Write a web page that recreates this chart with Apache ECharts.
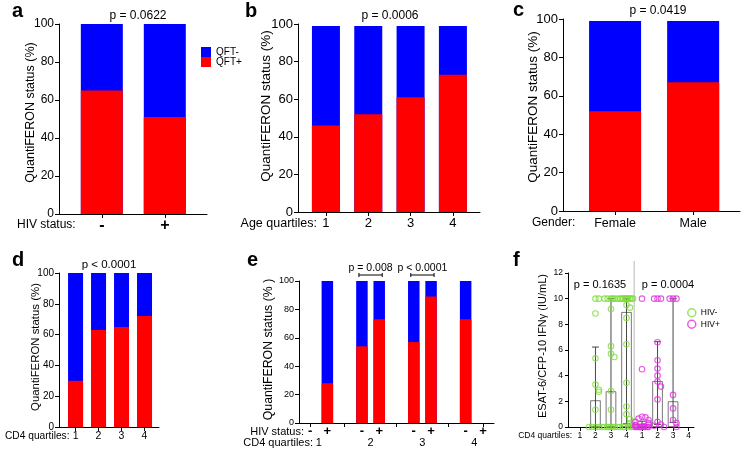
<!DOCTYPE html>
<html>
<head>
<meta charset="utf-8">
<script src="https://cdn.jsdelivr.net/npm/echarts@6/dist/echarts.min.js"></script>
<style>
  html, body { margin: 0; background: #fff; }
  #chart { width: 749px; height: 453px; }
</style>
</head>
<body>
<div id="chart"></div>
<script>
const FONT = '"Liberation Sans", Arial, sans-serif'
const RED = '#ff0000'
const BLUE = '#0000ff'
const GREEN = '#7ddc3a'
const MAGENTA = '#e030e0'

// a - HIV status
const hivLabels = ['-', '+']
const hivQftPos = [65, 51]
const hivQftNeg = [35, 49]
// b - age quartiles
const ageLabels = ['1', '2', '3', '4']
const ageQftPos = [46, 52, 61, 73]
const ageQftNeg = [53, 47, 38, 26]
// c - gender
const genderLabels = ['Female', 'Male']
const genderQftPos = [52, 67]
const genderQftNeg = [47, 32]
// d - CD4 quartiles
const cd4Labels = ['1', '2', '3', '4']
const cd4QftPos = [30, 63, 65, 72]
const cd4QftNeg = [70, 37, 35, 28]
// e - CD4 quartiles by HIV status
const eHivLabels = ['-', '+', '-', '+', '-', '+', '-', '+']
const eQuartileLabels = ['1', '2', '3', '4']
const eQftPos = [null, 28, 54, 73, 57, 89, 73, null]
const eQftNeg = [null, 72, 46, 27, 43, 11, 27, null]
const ePairs = [[2, 3], [4, 5]]
const ePValues = ['p = 0.008', 'p < 0.0001']
// f - ESAT-6/CFP-10 IFNg by CD4 quartile
const fLabels = ['1', '2', '3', '4', '1', '2', '3', '4']
const fNegMean = [null, 2.08, 2.78, 8.96]
const fPosMean = [0.25, 3.58, 2.0, null]
const fNegErr = [null, [0, 6.23], [0, 10], [0.25, 10]]
const fPosErr = [[0, 0.45], [0.2, 6.65], [0.35, 10], null]
const fNegPoints = [
  [],
  [10, 10, 8.85, 5.35, 3.3, 2.9, 2.75, 1.35, 0, 0, 0, 0, 0],
  [10, 10, 10, 10, 10, 10, 9.2, 6.3, 5.7, 5.45, 2.8, 1.35, 0, 0, 0, 0, 0, 0, 0],
  [10, 10, 10, 10, 10, 10, 10, 10, 10, 10, 9.5, 9.3, 8.5, 6.45, 3.45, 1.6, 1.0, 0.6, 0.3, 0.1, 0, 0, 0, 0, 0, 0]
]
const fPosPoints = [
  [10, 4.5, 0.8, 0.75, 0.65, 0.55, 0.4, 0.3, 0.2, 0.15, 0.1, 0.05, 0, 0, 0, 0, 0, 0, 0, 0, 0, 0],
  [10, 10, 10, 6.6, 5.2, 4.55, 4.0, 3.55, 3.15, 2.15, 0.4, 0.2, 0.1, 0],
  [10, 10, 10, 2.5, 1.45, 0.55, 0.3, 0],
  []
]

const toXY = (arr, posOf) => arr.map((v, i) => [posOf ? posOf(i) : i, v])
const ePosOf = (i) => i + Math.floor(i / 2)
const idx = (n) => Array.from({ length: n }, (_, i) => i)

// spread overlapping points sideways (beeswarm-ish)
const swarm = [0, 0.22, -0.22, 0.42, -0.42, 0.11, -0.11, 0.32, -0.32]
function swarmPoints(groups, base) {
  const out = []
  groups.forEach((vals, g) => {
    const placed = []
    vals.forEach((v) => {
      const k = placed.filter((p) => Math.abs(p - v) < 0.45).length
      placed.push(v)
      out.push([base + g + swarm[k % swarm.length], v])
    })
  })
  return out
}

function xAx(grid, min, max, positions, labels, fontSize, margin, bold, tickPositions) {
  return {
    type: 'value', gridIndex: grid, min: min, max: max, position: 'bottom', offset: 0,
    axisLine: { show: true, onZero: false, lineStyle: { color: '#000', width: 1 } },
    axisTick: { show: true, length: 4, customValues: tickPositions || positions, lineStyle: { color: '#000' } },
    splitLine: { show: false },
    axisLabel: {
      customValues: positions, color: '#000', fontSize: fontSize, margin: margin,
      fontWeight: bold ? 'bold' : 'normal',
      formatter: (v) => labels[positions.findIndex((p) => Math.abs(p - v) < 1e-6)] || ''
    }
  }
}

function yAx(grid, name, fontSize, nameSize, nameGap, lift, max, interval) {
  return {
    type: 'value', gridIndex: grid, min: 0, max: max || 100, interval: interval || 20,
    axisLine: { show: true, onZero: false, lineStyle: { color: '#000', width: 1 } },
    axisTick: { show: true, length: 4, lineStyle: { color: '#000' } },
    splitLine: { show: false },
    axisLabel: { color: '#000', fontSize: fontSize, margin: 5 },
    name: name, nameLocation: 'middle', nameRotate: 90, nameGap: nameGap, nameMoveOverlap: false,
    nameTextStyle: { color: '#000', fontSize: nameSize, padding: [0, 0, 0, lift * 2] }
  }
}

// blue bar = QFT+ plus QFT- (whole bar), red QFT+ part drawn over its lower end
function stacked(ax, pos, neg, width, posOf) {
  const total = pos.map((v, i) => (v == null ? null : v + neg[i]))
  return [
    { type: 'bar', name: 'QFT-', xAxisIndex: ax[0], yAxisIndex: ax[1], barWidth: width, barGap: '-100%', z: 2,
      itemStyle: { color: BLUE }, data: toXY(total, posOf) },
    { type: 'bar', name: 'QFT+', xAxisIndex: ax[0], yAxisIndex: ax[1], barWidth: width, barGap: '-100%', z: 3,
      itemStyle: { color: RED }, data: toXY(pos, posOf) }
  ]
}

function label(text, left, top, size, opts) {
  return Object.assign({
    text: text, left: left, top: top, padding: 0,
    textStyle: { fontSize: size, fontWeight: 'normal', color: '#000', fontFamily: FONT }
  }, opts || {})
}

function letter(text, left, top) {
  return label(text, left, top, 20, { textStyle: { fontSize: 20, fontWeight: 'bold', fontFamily: FONT, color: '#000' } })
}

function whiskers(errs, base) {
  return errs.map((e, i) => (e ? [base + i, e[0], e[1]] : null)).filter(Boolean)
}

const titles = [
  letter('a', 12, 1),
  letter('b', 245, 1),
  letter('c', 513, 0),
  letter('d', 12, 250),
  letter('e', 247, 250),
  letter('f', 513, 250),
  label('p = 0.0622', 138, 10, 12, { textAlign: 'center' }),
  label('p = 0.0006', 390, 10, 12, { textAlign: 'center' }),
  label('p = 0.0419', 658, 4.5, 12, { textAlign: 'center' }),
  label('p < 0.0001', 109, 259, 11.5, { textAlign: 'center' }),
  label('p = 0.1635', 600, 279, 11, { textAlign: 'center' }),
  label('p = 0.0004', 668, 279, 11, { textAlign: 'center' }),
  label('HIV status:', 17, 218.5, 12),
  label('Age quartiles:', 317, 216.7, 12.5, { textAlign: 'right' }),
  label('Gender:', 532, 217, 12),
  label('CD4 quartiles:', 5, 431, 10.2),
  label('HIV status:', 304, 426.5, 11, { textAlign: 'right' }),
  label('CD4 quartiles:', 313, 437.5, 11, { textAlign: 'right' }),
  label('CD4 quartiles:', 572, 431.5, 8.5, { textAlign: 'right' })
]

const option = {
  animation: false,
  backgroundColor: '#fff',
  textStyle: { fontFamily: FONT },
  title: titles,
  legend: [
    { data: ['QFT-', 'QFT+'], orient: 'vertical', left: 201, top: 47, itemWidth: 10, itemHeight: 10, itemGap: 0,
      icon: 'rect', selectedMode: false, padding: 0, textStyle: { fontSize: 10, color: '#000' } },
    { data: [
        { name: 'HIV-', itemStyle: { color: 'rgba(0,0,0,0)', borderColor: GREEN, borderWidth: 1.5 } },
        { name: 'HIV+', itemStyle: { color: 'rgba(0,0,0,0)', borderColor: MAGENTA, borderWidth: 1.5 } }
      ],
      orient: 'vertical', left: 687, top: 308, itemWidth: 8, itemHeight: 8, itemGap: 2, icon: 'circle',
      selectedMode: false, padding: 0, textStyle: { fontSize: 8.5, color: '#000' } }
  ],
  grid: [
    { left: 59, top: 24, width: 148, height: 190 },
    { left: 298, top: 24, width: 182, height: 188 },
    { left: 563, top: 19, width: 177, height: 192 },
    { left: 59, top: 273, width: 100, height: 154 },
    { left: 299, top: 281, width: 195, height: 142 },
    { left: 568, top: 273, width: 126, height: 154 }
  ].map((g) => Object.assign({ outerBoundsMode: 'none', containLabel: false }, g)),
  xAxis: [
    xAx(0, -0.68, 1.67, idx(2), hivLabels, 16, 4, true),
    xAx(1, -0.66, 3.64, idx(4), ageLabels, 13, 4.5),
    xAx(2, -0.667, 1.6, idx(2), genderLabels, 12.5, 6),
    xAx(3, -0.72, 3.63, idx(4), cd4Labels, 10.5, 3.5),
    xAx(4, -0.64, 10.64, idx(8).map(ePosOf), eHivLabels, 13, 2, true, [0, 2, 5, 8, 10]),
    Object.assign(xAx(4, -0.64, 10.64, [0.5, 3.5, 6.5, 9.5], eQuartileLabels, 11, 14.5), {
      axisLine: { show: false }, axisTick: { show: false }
    }),
    xAx(5, -0.77, 7.35, idx(8), fLabels, 8.5, 4.5)
  ],
  yAxis: [
    yAx(0, 'QuantiFERON status (%)', 12, 12.5, 22, 6.5),
    yAx(1, 'QuantiFERON status (%)', 13, 13.5, 25, 12),
    yAx(2, 'QuantiFERON status (%)', 13, 13.5, 23, 8),
    yAx(3, 'QuantiFERON status (%)', 10, 11.4, 18, 3),
    yAx(4, 'QuantiFERON status (% )', 9, 12.3, 24, 2.5),
    Object.assign(yAx(5, 'ESAT-6/CFP-10 IFN\u03b3 (IU/mL)', 8.5, 11, 19.5, 4, 12, 2), {
      axisTick: { show: true, length: 3, lineStyle: { color: '#000' } }
    })
  ],
  series: [
    ...stacked([0, 0], hivQftPos, hivQftNeg, 42),
    ...stacked([1, 1], ageQftPos, ageQftNeg, 28),
    ...stacked([2, 2], genderQftPos, genderQftNeg, 52),
    ...stacked([3, 3], cd4QftPos, cd4QftNeg, 15),
    ...stacked([4, 4], eQftPos, eQftNeg, 11.5, ePosOf),
    {
      type: 'custom', name: 'pbrackets', xAxisIndex: 4, yAxisIndex: 4, clip: false,
      data: ePairs.map((p) => [ePosOf(p[0]), ePosOf(p[1])]),
      renderItem: (params, api) => {
        const a = api.coord([api.value(0), 100])
        const b = api.coord([api.value(1), 100])
        const y = a[1] - 6
        const x1 = a[0] - 3
        const x2 = b[0] + 3
        const st = { stroke: '#000', lineWidth: 1 }
        return { type: 'group', children: [
          { type: 'line', shape: { x1: x1, y1: y, x2: x2, y2: y }, style: st },
          { type: 'line', shape: { x1: x1, y1: y - 2, x2: x1, y2: y + 2 }, style: st },
          { type: 'line', shape: { x1: x2, y1: y - 2, x2: x2, y2: y + 2 }, style: st },
          { type: 'text', style: { text: ePValues[params.dataIndex], x: (x1 + x2) / 2, y: y - 1.5,
            align: 'center', verticalAlign: 'bottom', fontSize: 10.5, fontFamily: FONT, fill: '#000' } }
        ] }
      }
    },
    // f
    {
      type: 'custom', name: 'separator', xAxisIndex: 6, yAxisIndex: 5, clip: false, silent: true,
      data: [[fNegMean.length - 0.5]],
      renderItem: (params, api) => {
        const lo = api.coord([api.value(0), 0])
        const hi = api.coord([api.value(0), 12])
        return { type: 'line', shape: { x1: lo[0], y1: lo[1], x2: hi[0], y2: hi[1] - 12 },
          style: { stroke: '#cfcfcf', lineWidth: 1.5 } }
      }
    },
    {
      type: 'bar', name: 'means', xAxisIndex: 6, yAxisIndex: 5, barWidth: 10.5, z: 3,
      itemStyle: { color: 'rgba(0,0,0,0)', borderColor: '#555', borderWidth: 0.8 },
      data: [...toXY(fNegMean), ...toXY(fPosMean, (i) => fNegMean.length + i)]
    },
    {
      type: 'custom', name: 'errors', xAxisIndex: 6, yAxisIndex: 5, z: 4,
      data: [...whiskers(fNegErr, 0), ...whiskers(fPosErr, fNegMean.length)],
      renderItem: (params, api) => {
        const lo = api.coord([api.value(0), api.value(1)])
        const hi = api.coord([api.value(0), api.value(2)])
        const w = 3.5
        const st = { stroke: '#333', lineWidth: 0.9 }
        return { type: 'group', children: [
          { type: 'line', shape: { x1: lo[0], y1: lo[1], x2: hi[0], y2: hi[1] }, style: st },
          { type: 'line', shape: { x1: hi[0] - w, y1: hi[1], x2: hi[0] + w, y2: hi[1] }, style: st },
          { type: 'line', shape: { x1: lo[0] - w, y1: lo[1], x2: lo[0] + w, y2: lo[1] }, style: st }
        ] }
      }
    },
    {
      type: 'scatter', name: 'HIV-', xAxisIndex: 6, yAxisIndex: 5, symbol: 'circle', symbolSize: 5.5, z: 5,
      itemStyle: { color: 'rgba(0,0,0,0)', borderColor: GREEN, borderWidth: 1.1 },
      data: swarmPoints(fNegPoints, 0)
    },
    {
      type: 'scatter', name: 'HIV+', xAxisIndex: 6, yAxisIndex: 5, symbol: 'circle', symbolSize: 5.5, z: 5,
      itemStyle: { color: 'rgba(0,0,0,0)', borderColor: MAGENTA, borderWidth: 1.1 },
      data: swarmPoints(fPosPoints, fNegMean.length)
    }
  ]
}

const chart = echarts.init(document.getElementById('chart'), null, { renderer: 'canvas' })
chart.setOption(option)
</script>
</body>
</html>
